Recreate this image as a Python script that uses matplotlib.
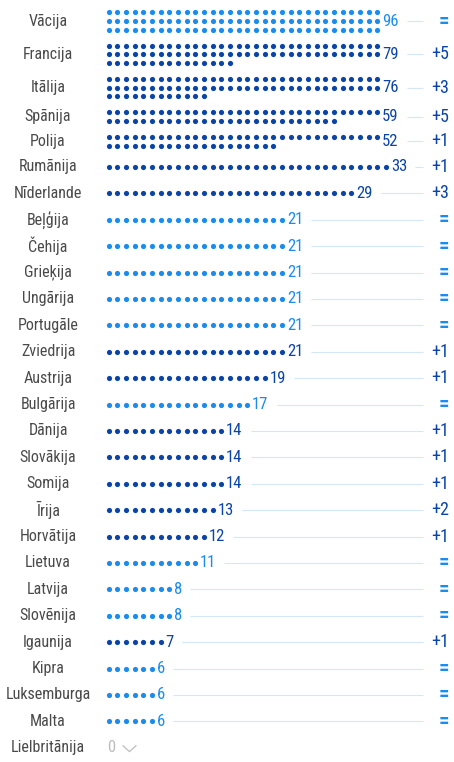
import math
import matplotlib
matplotlib.use('Agg')
import matplotlib.pyplot as plt
from matplotlib import font_manager
from matplotlib.path import Path

# seats per country in the European Parliament and change vs. before
countries = ['Vācija', 'Francija', 'Itālija', 'Spānija', 'Polija', 'Rumānija',
             'Nīderlande', 'Beļģija', 'Čehija', 'Grieķija', 'Ungārija', 'Portugāle',
             'Zviedrija', 'Austrija', 'Bulgārija', 'Dānija', 'Slovākija', 'Somija',
             'Īrija', 'Horvātija', 'Lietuva', 'Latvija', 'Slovēnija', 'Igaunija',
             'Kipra', 'Luksemburga', 'Malta', 'Lielbritānija']
seats = [96, 79, 76, 59, 52, 33, 29, 21, 21, 21, 21, 21, 21, 19, 17, 14, 14, 14,
         13, 12, 11, 8, 8, 7, 6, 6, 6, 0]
changes = ['=', '+5', '+3', '+5', '+1', '+1', '+3', '=', '=', '=', '=', '=', '+1',
           '+1', '=', '+1', '+1', '+1', '+2', '+1', '=', '=', '=', '+1', '=', '=',
           '=', '']

LIGHT = '#1a8cf0'
DARK = '#0a44a8'
LINE = '#d3e7f8'
GREY = '#4a4a4a'
PALE = '#bdbdbd'


def pick_font(names):
    for n in names:
        try:
            font_manager.findfont(n, fallback_to_default=False)
            return n
        except ValueError:
            pass
    return 'DejaVu Sans'


fam = pick_font(['Liberation Sans Narrow', 'Roboto Condensed', 'Roboto'])
plt.rcParams['font.family'] = [fam, 'DejaVu Sans']

W, H = 454, 762
fig = plt.figure(figsize=(W / 100, H / 100), dpi=100)
ax = fig.add_axes([0, 0, 1, 1])
ax.set_xlim(0, W)
ax.set_ylim(H, 0)
ax.axis('off')

per_row = 32
step = 8.67
x0 = 108.5
top = 4.5
renderer = fig.canvas.get_renderer()

# open chevron used for the "0" row
chevron = Path([(-1, 0.45), (0, -0.45), (1, 0.45)],
               [Path.MOVETO, Path.LINETO, Path.LINETO])

for name, n, ch in zip(countries, seats, changes):
    rows = 1 if n <= per_row + 1 else math.ceil(n / per_row)
    h = 26.4 if rows == 1 else rows * step + 7.3
    cy = top + h / 2
    top += h
    col = LIGHT if ch == '=' else DARK

    ax.text(48, cy, name, ha='center', va='center', fontsize=11.5, color=GREY)

    if n == 0:
        ax.text(x0 - 1, cy, '0', ha='left', va='center', fontsize=12, color=PALE)
        ax.plot([128.5], [cy + 0.5], marker=chevron, ms=10, mfc='none', mec=PALE,
                mew=0.9, ls='none')
        continue

    first = n if rows == 1 else per_row
    xs, ys = [], []
    for i in range(n):
        r = 0 if rows == 1 else i // per_row
        c = i if rows == 1 else i % per_row
        xs.append(x0 + c * step)
        ys.append(cy - (rows - 1) * step / 2 + r * step)
    ax.scatter(xs, ys, s=14, color=col, linewidths=0)

    num = ax.text(x0 + (first - 1) * step + 5, cy, str(n), ha='left', va='center',
                  fontsize=12, color=col)
    ext = num.get_window_extent(renderer)
    ax.plot([ext.x1 + 8, 423], [cy, cy], color=LINE, lw=0.8, solid_capstyle='butt')
    if ch == '=':
        ax.text(449, cy, ch, ha='right', va='center', fontsize=15, color=col,
                fontweight='bold')
    else:
        ax.text(449, cy, ch, ha='right', va='center', fontsize=13, color=col)

fig.savefig('out.png', dpi=100)
